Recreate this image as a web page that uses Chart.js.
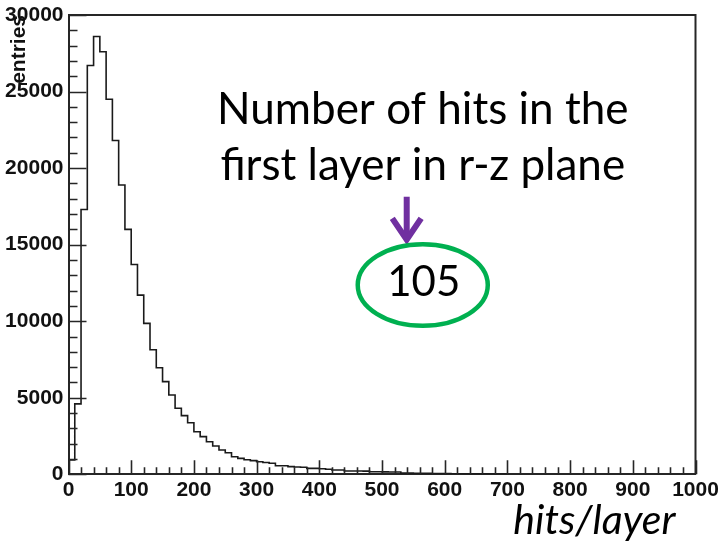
<!DOCTYPE html>
<html>
<head>
<meta charset="utf-8">
<script src="https://cdn.jsdelivr.net/npm/chart.js@4"></script>
<style>
  html, body { margin: 0; padding: 0; background: #ffffff; }
  canvas { display: block; }
</style>
</head>
<body>
<canvas id="hist" width="718" height="543"></canvas>
<script>
// Hits per layer histogram, 10-hit bins starting at 0
const BIN_WIDTH = 10;
const counts = [
  930, 4600, 17300, 26700, 28600, 27600, 24500, 21800, 18900, 16000,
  13700, 11700, 9860, 8140, 6960, 6050, 5180, 4310, 3830, 3370,
  2780, 2460, 2130, 1850, 1590, 1410, 1150, 1040, 950, 890,
  820, 770, 720, 560, 560, 500, 480, 460, 390, 390,
  360, 330, 280, 280, 220, 220, 220, 210, 170, 170,
  160, 150, 150, 80, 75, 70, 65, 60, 55, 50,
  45, 40, 35, 30, 30, 25, 25, 20, 20, 20
];

// Axis ranges and labelled ticks
const xRange = [0, 1000];
const yRange = [0, 30000];
const xMajorStep = 100, xMinorStep = 20;
const yMajorStep = 5000, yMinorStep = 1000;

const yAxisTitle = 'entries';
const xAxisTitle = 'hits/layer';
const noteLines = ['Number of hits in the', 'first layer in r-z plane'];
const noteValue = '105';

// Step outline: one point per bin right edge, starting from zero at x = 0
const outline = [{ x: 0, y: 0 }];
counts.forEach((c, i) => outline.push({ x: (i + 1) * BIN_WIDTH, y: c }));
outline.push({ x: counts.length * BIN_WIDTH, y: 0 });

const AXIS_COLOR = '#262626';
const LABEL_FONT = { family: "'Liberation Sans Narrow', 'Liberation Sans', Arial, sans-serif", size: 21, weight: 'bold' };
const TITLE_FONT = { family: "'Liberation Sans', Arial, sans-serif", size: 21, weight: 'bold' };
const NOTE_FAMILY = "Lato, 'Open Sans', sans-serif";

// Inward tick marks and the top/right frame, ROOT style
const frameTicks = {
  id: 'frameTicks',
  afterDatasetsDraw(chart) {
    const { ctx, chartArea: a, scales: { x, y } } = chart;
    ctx.save();
    ctx.strokeStyle = AXIS_COLOR;
    ctx.lineWidth = 2;
    ctx.beginPath();
    ctx.moveTo(a.left, a.top);
    ctx.lineTo(a.right, a.top);
    ctx.lineTo(a.right, a.bottom);
    ctx.stroke();

    ctx.lineWidth = 1.6;
    ctx.beginPath();
    for (let v = yRange[0]; v <= yRange[1]; v += yMinorStep) {
      const p = Math.round(y.getPixelForValue(v)) + 0.5;
      const len = v % yMajorStep === 0 ? 18 : 9;
      ctx.moveTo(a.left, p);
      ctx.lineTo(a.left + len, p);
    }
    for (let v = xRange[0]; v <= xRange[1]; v += xMinorStep) {
      const p = Math.round(x.getPixelForValue(v)) + 0.5;
      const len = v % xMajorStep === 0 ? 14 : 7;
      ctx.moveTo(p, a.bottom);
      ctx.lineTo(p, a.bottom - len);
    }
    ctx.stroke();
    ctx.restore();
  }
};

// Text note, arrow and circled value placed in data coordinates
const note = {
  id: 'note',
  afterDraw(chart) {
    const { ctx, scales: { x, y } } = chart;
    const X = v => x.getPixelForValue(v);
    const Y = v => y.getPixelForValue(v);
    ctx.save();

    ctx.fillStyle = '#000';
    ctx.textAlign = 'center';
    ctx.textBaseline = 'alphabetic';
    ctx.font = `44px ${NOTE_FAMILY}`;
    ctx.fillText(noteLines[0], X(565), Y(22880));
    ctx.fillText(noteLines[1], X(565), Y(19220));

    // purple arrow
    const ax = X(539.4), top = Y(18130), tip = Y(15190), wingY = Y(16720);
    const wing = x.getPixelForValue(23) - x.getPixelForValue(0);
    ctx.strokeStyle = '#7030A0';
    ctx.lineWidth = 6;
    ctx.lineCap = 'butt';
    ctx.lineJoin = 'miter';
    ctx.beginPath();
    ctx.moveTo(ax, top);
    ctx.lineTo(ax, tip - 4);
    ctx.stroke();
    ctx.beginPath();
    ctx.moveTo(ax - wing, wingY);
    ctx.lineTo(ax, tip - 2);
    ctx.lineTo(ax + wing, wingY);
    ctx.stroke();

    // green ellipse round the value
    const cx = X(565), cy = Y(12365);
    const rx = x.getPixelForValue(103.7) - x.getPixelForValue(0);
    const ry = y.getPixelForValue(0) - y.getPixelForValue(2665);
    ctx.strokeStyle = '#00B050';
    ctx.lineWidth = 4.5;
    ctx.beginPath();
    ctx.ellipse(cx, cy, rx, ry, 0, 0, Math.PI * 2);
    ctx.stroke();

    ctx.fillStyle = '#000';
    ctx.font = `42px ${NOTE_FAMILY}`;
    ctx.fillText(noteValue, cx + 1, Y(11665));

    // x axis title below the tick labels
    const area = chart.chartArea;
    ctx.font = `italic 41px ${NOTE_FAMILY}`;
    ctx.textAlign = 'right';
    ctx.fillText(xAxisTitle, X(968), area.bottom + 60);
    ctx.restore();
  }
};

const whiteBg = {
  id: 'whiteBg',
  beforeDraw(chart) {
    const { ctx, width, height } = chart;
    ctx.save();
    ctx.fillStyle = '#ffffff';
    ctx.fillRect(0, 0, width, height);
    ctx.restore();
  }
};

const plainNumber = v => String(v);

new Chart(document.getElementById('hist'), {
  type: 'line',
  data: {
    datasets: [{
      data: outline,
      stepped: 'after',
      borderColor: '#1a1a1a',
      borderWidth: 1.6,
      pointRadius: 0,
      fill: false,
      tension: 0
    }]
  },
  options: {
    responsive: false,
    animation: false,
    events: [],
    layout: { padding: { top: 15, right: 22.5, left: 0, bottom: 0 } },
    plugins: { legend: { display: false }, tooltip: { enabled: false } },
    scales: {
      x: {
        type: 'linear',
        min: xRange[0],
        max: xRange[1],
        afterFit: s => { s.height = 68.7; s.paddingLeft = 0; s.paddingRight = 0; },
        afterBuildTicks: s => {
          const t = [];
          for (let v = xRange[0]; v <= xRange[1]; v += xMajorStep) t.push({ value: v });
          s.ticks = t;
        },
        grid: { display: false, drawTicks: false, tickLength: 0 },
        border: { display: true, color: AXIS_COLOR, width: 2 },
        ticks: { color: '#111', font: LABEL_FONT, padding: 3, maxRotation: 0, autoSkip: false, callback: plainNumber }
      },
      y: {
        type: 'linear',
        min: yRange[0],
        max: yRange[1],
        afterFit: s => { s.width = 68.5; s.paddingTop = 0; s.paddingBottom = 0; },
        afterBuildTicks: s => {
          const t = [];
          for (let v = yRange[0]; v <= yRange[1]; v += yMajorStep) t.push({ value: v });
          s.ticks = t;
        },
        grid: { display: false, drawTicks: false, tickLength: 0 },
        border: { display: true, color: AXIS_COLOR, width: 2 },
        ticks: { color: '#111', font: LABEL_FONT, padding: 5, autoSkip: false, callback: plainNumber },
        title: {
          display: true,
          text: yAxisTitle,
          align: 'end',
          color: '#111',
          font: TITLE_FONT,
          padding: { top: 7, bottom: 0 }
        }
      }
    }
  },
  plugins: [whiteBg, frameTicks, note]
});
</script>
</body>
</html>
